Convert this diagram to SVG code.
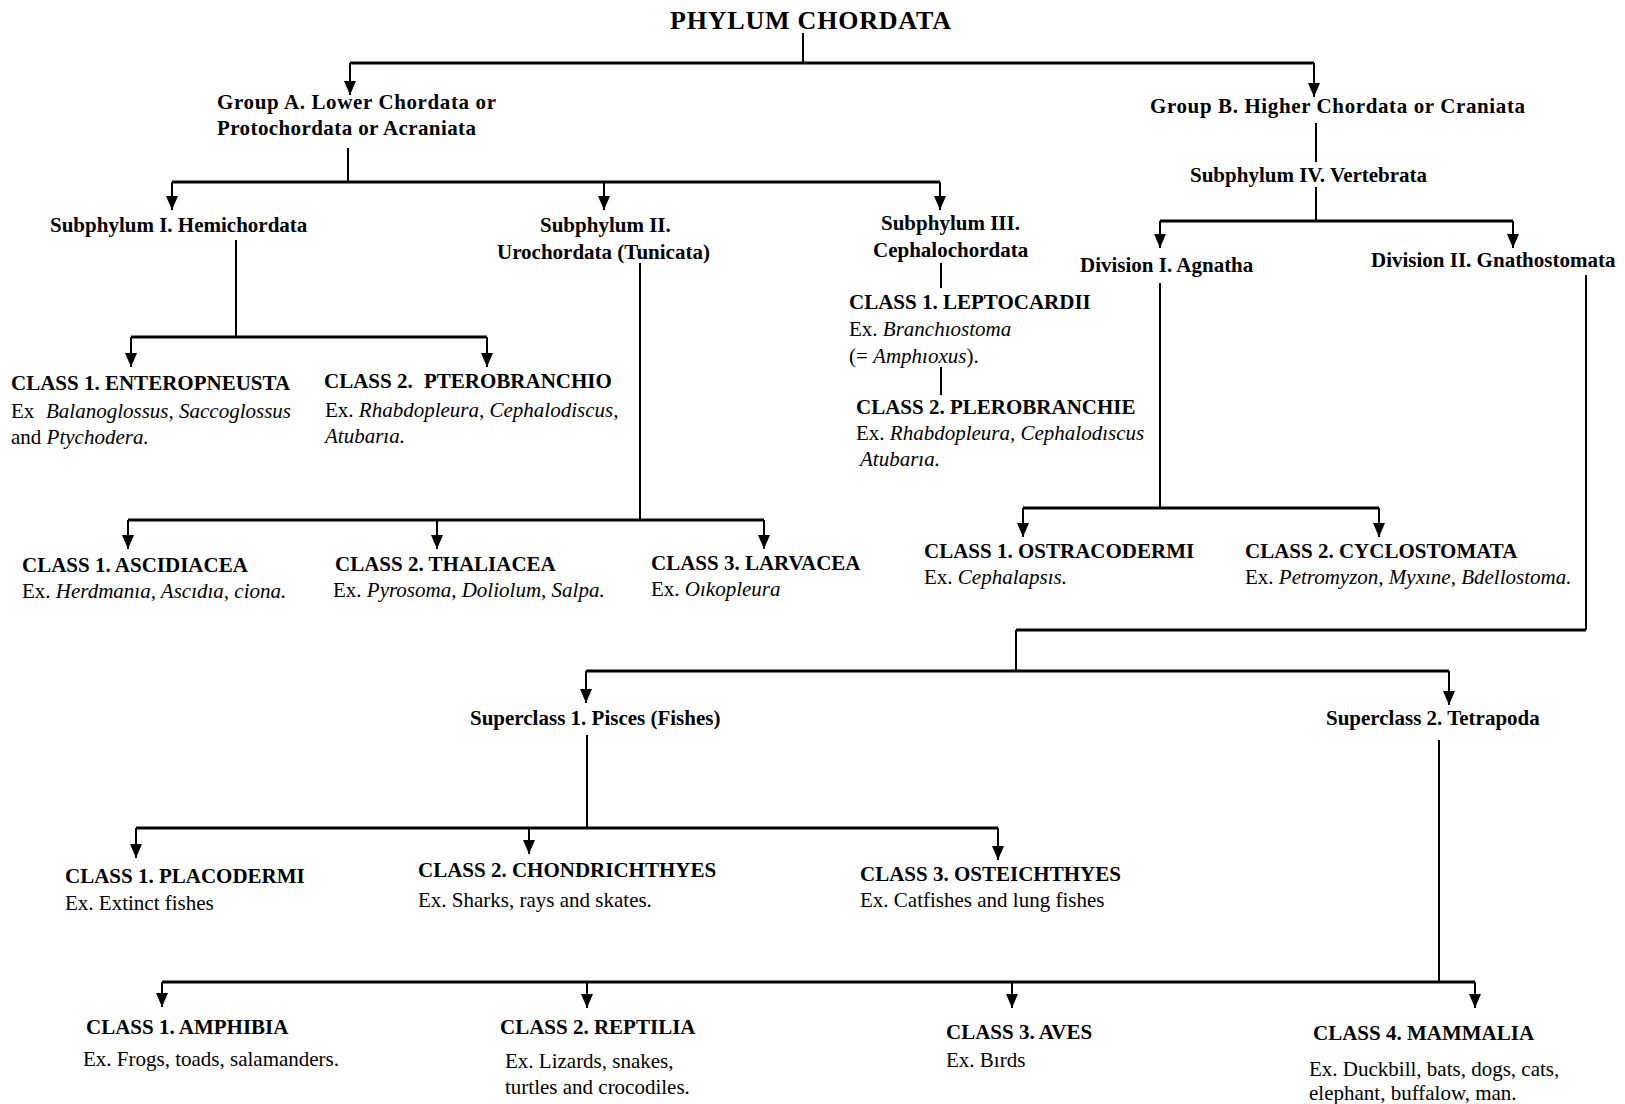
<svg xmlns="http://www.w3.org/2000/svg" width="1625" height="1104" viewBox="0 0 1625 1104">
<defs>
<style>
text{font-family:"Liberation Serif","Times New Roman",serif;fill:#000;}
.t{font-size:26px;font-weight:bold;}
.b{font-size:21px;font-weight:bold;}
.r{font-size:21px;}
.i{font-style:italic;}
.h{stroke:#000;stroke-width:3;fill:none;}
.v{stroke:#000;stroke-width:2;fill:none;}
.a{stroke:#000;stroke-width:2;fill:none;marker-end:url(#ah);}
</style>
<marker id="ah" viewBox="0 0 14 12" refX="14" refY="6" markerWidth="14" markerHeight="12" markerUnits="userSpaceOnUse" orient="auto">
<path d="M0,0 L14,6 L0,12 z" fill="#000"/>
</marker>
</defs>
<rect width="1625" height="1104" fill="#fff"/>

<g id="connectors">
<path class="v" d="M803 33 V63"/>
<path class="h" d="M350 63 H1314"/>
<path class="a" d="M350 63 V95"/>
<path class="a" d="M1314 63 V97"/>

<path class="v" d="M348 148 V182"/>
<path class="h" d="M172 182 H940"/>
<path class="a" d="M172 182 V210"/>
<path class="a" d="M604 182 V210"/>
<path class="a" d="M940 182 V210"/>

<path class="v" d="M1316 123 V162"/>
<path class="v" d="M1316 187 V221"/>
<path class="h" d="M1160 221 H1513"/>
<path class="a" d="M1160 221 V248"/>
<path class="a" d="M1513 221 V248"/>

<path class="v" d="M236 240 V337"/>
<path class="h" d="M131 337 H487"/>
<path class="a" d="M131 337 V367"/>
<path class="a" d="M487 337 V367"/>

<path class="v" d="M640 263 V520"/>
<path class="h" d="M128 520 H764"/>
<path class="a" d="M128 520 V549"/>
<path class="a" d="M437 520 V549"/>
<path class="a" d="M764 520 V549"/>

<path class="v" d="M941 263 V288"/>
<path class="v" d="M941 367 V395"/>

<path class="v" d="M1160 283 V508"/>
<path class="h" d="M1023 508 H1379"/>
<path class="a" d="M1023 508 V537"/>
<path class="a" d="M1379 508 V537"/>

<path class="v" d="M1586 275 V630"/>
<path class="h" d="M1016 630 H1586"/>
<path class="v" d="M1016 630 V670"/>
<path class="h" d="M586 671 H1449"/>
<path class="a" d="M586 671 V703"/>
<path class="a" d="M1449 671 V705"/>

<path class="v" d="M587 735 V828"/>
<path class="h" d="M136 828 H998"/>
<path class="a" d="M136 828 V858"/>
<path class="a" d="M529 828 V854"/>
<path class="a" d="M998 828 V860"/>

<path class="v" d="M1439 740 V982"/>
<path class="h" d="M162 982 H1475"/>
<path class="a" d="M162 982 V1007"/>
<path class="a" d="M587 982 V1008"/>
<path class="a" d="M1012 982 V1008"/>
<path class="a" d="M1475 982 V1008"/>
</g>

<g id="phylum"><text class="t" x="670" y="29" textLength="281">PHYLUM CHORDATA</text></g>

<g id="groupA">
<text class="b" x="217" y="109" textLength="279">Group A. Lower Chordata or</text>
<text class="b" x="217" y="135" textLength="259">Protochordata or Acraniata</text>
</g>
<g id="groupB"><text class="b" x="1150" y="113" textLength="375">Group B. Higher Chordata or Craniata</text></g>

<g id="subphylum1"><text class="b" x="50" y="232">Subphylum I. Hemichordata</text></g>
<g id="subphylum2">
<text class="b" x="540" y="232">Subphylum II.</text>
<text class="b" x="497" y="259">Urochordata  (Tunicata)</text>
</g>
<g id="subphylum3">
<text class="b" x="881" y="230">Subphylum III.</text>
<text class="b" x="873" y="257">Cephalochordata</text>
</g>
<g id="subphylum4"><text class="b" x="1190" y="182">Subphylum IV. Vertebrata</text></g>
<g id="division1"><text class="b" x="1080" y="272">Division I. Agnatha</text></g>
<g id="division2"><text class="b" x="1371" y="267">Division II. Gnathostomata</text></g>

<g id="enteropneusta">
<text class="b" x="11" y="390">CLASS 1. ENTEROPNEUSTA</text>
<text class="r" x="11" y="418">Ex<tspan class="i" x="46">Balanoglossus, Saccoglossus</tspan></text>
<text class="r" x="11" y="444">and <tspan class="i">Ptychodera.</tspan></text>
</g>
<g id="pterobranchio">
<text class="b" x="324" y="388">CLASS 2.<tspan x="424">PTEROBRANCHIO</tspan></text>
<text class="r" x="325" y="417">Ex. <tspan class="i">Rhabdopleura, Cephalodiscus,</tspan></text>
<text class="r i" x="325" y="443">Atubarıa.</text>
</g>

<g id="ascidiacea">
<text class="b" x="22" y="572">CLASS 1. ASCIDIACEA</text>
<text class="r" x="22" y="598">Ex. <tspan class="i">Herdmanıa, Ascıdıa, ciona.</tspan></text>
</g>
<g id="thaliacea">
<text class="b" x="335" y="571">CLASS 2. THALIACEA</text>
<text class="r" x="333" y="597">Ex. <tspan class="i">Pyrosoma, Doliolum, Salpa.</tspan></text>
</g>
<g id="larvacea">
<text class="b" x="651" y="570">CLASS 3. LARVACEA</text>
<text class="r" x="651" y="596">Ex. <tspan class="i">Oıkopleura</tspan></text>
</g>

<g id="leptocardii">
<text class="b" x="849" y="309">CLASS 1. LEPTOCARDII</text>
<text class="r" x="849" y="336">Ex. <tspan class="i">Branchıostoma</tspan></text>
<text class="r" x="849" y="363">(= <tspan class="i">Amphıoxus</tspan>).</text>
</g>
<g id="plerobranchie">
<text class="b" x="856" y="414">CLASS 2. PLEROBRANCHIE</text>
<text class="r" x="856" y="440">Ex. <tspan class="i">Rhabdopleura, Cephalodıscus</tspan></text>
<text class="r i" x="860" y="466">Atubarıa.</text>
</g>

<g id="ostracodermi">
<text class="b" x="924" y="558">CLASS 1. OSTRACODERMI</text>
<text class="r" x="924" y="584">Ex. <tspan class="i">Cephalapsıs.</tspan></text>
</g>
<g id="cyclostomata">
<text class="b" x="1245" y="558">CLASS 2. CYCLOSTOMATA</text>
<text class="r" x="1245" y="584">Ex. <tspan class="i">Petromyzon, Myxıne, Bdellostoma.</tspan></text>
</g>

<g id="pisces"><text class="b" x="470" y="725">Superclass 1. Pisces (Fishes)</text></g>
<g id="tetrapoda"><text class="b" x="1326" y="725">Superclass 2. Tetrapoda</text></g>

<g id="placodermi">
<text class="b" x="65" y="883">CLASS 1. PLACODERMI</text>
<text class="r" x="65" y="910">Ex. Extinct fishes</text>
</g>
<g id="chondrichthyes">
<text class="b" x="418" y="877">CLASS 2. CHONDRICHTHYES</text>
<text class="r" x="418" y="907">Ex. Sharks, rays and skates.</text>
</g>
<g id="osteichthyes">
<text class="b" x="860" y="881">CLASS 3. OSTEICHTHYES</text>
<text class="r" x="860" y="907">Ex. Catfishes and lung fishes</text>
</g>

<g id="amphibia">
<text class="b" x="86" y="1034">CLASS 1. AMPHIBIA</text>
<text class="r" x="83" y="1066">Ex. Frogs, toads, salamanders.</text>
</g>
<g id="reptilia">
<text class="b" x="500" y="1034">CLASS 2. REPTILIA</text>
<text class="r" x="505" y="1068">Ex. Lizards, snakes,</text>
<text class="r" x="505" y="1094">turtles and crocodiles.</text>
</g>
<g id="aves">
<text class="b" x="946" y="1039">CLASS 3. AVES</text>
<text class="r" x="946" y="1067">Ex. Bırds</text>
</g>
<g id="mammalia">
<text class="b" x="1313" y="1040">CLASS 4. MAMMALIA</text>
<text class="r" x="1309" y="1076">Ex. Duckbill, bats, dogs, cats,</text>
<text class="r" x="1309" y="1100">elephant, buffalow, man.</text>
</g>
</svg>
